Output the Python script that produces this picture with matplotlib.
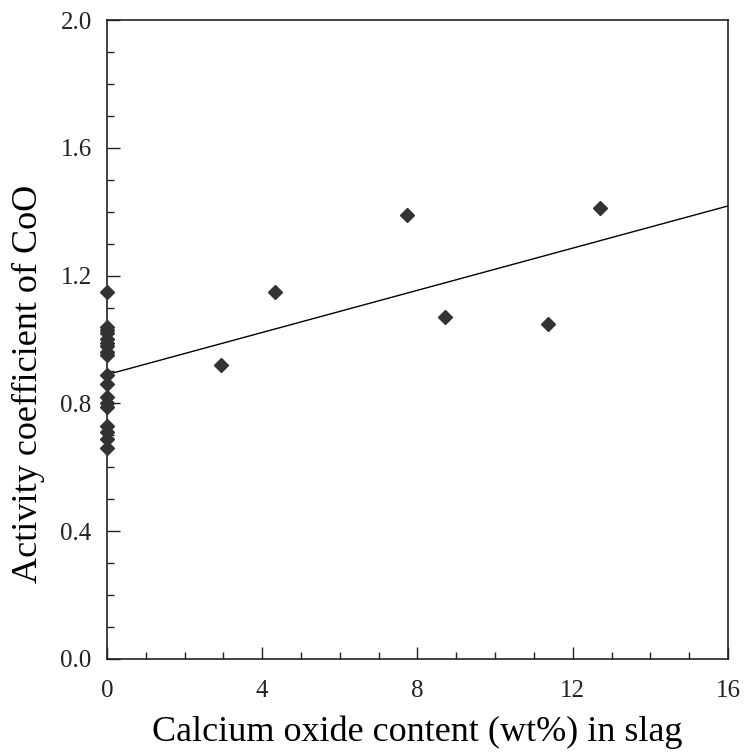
import numpy as np
import matplotlib
matplotlib.use('Agg')
import matplotlib.pyplot as plt
from matplotlib.ticker import MultipleLocator

plt.rcParams['font.family'] = ['Liberation Serif', 'DejaVu Serif']

# CaO content (wt%) and activity coefficient of CoO
cao_zero = [0, 0, 0, 0, 0, 0, 0, 0, 0, 0, 0, 0, 0, 0, 0, 0, 0, 0]
gamma_zero = [1.15, 1.04, 1.03, 1.02, 1.00, 0.99, 0.98, 0.96, 0.95,
              0.89, 0.86, 0.82, 0.80, 0.79, 0.73, 0.71, 0.69, 0.66]
cao = [2.95, 4.33, 7.73, 8.71, 11.37, 12.7]
gamma = [0.92, 1.15, 1.39, 1.07, 1.05, 1.41]

# regression line
fit_intercept = 0.89
fit_slope = 0.033
fit_x = [0, 16]

fig = plt.figure(figsize=(7.44, 7.55), dpi=100)
ax = fig.add_axes([0.1438, 0.1272, 0.8347, 0.8463])

ax.plot(cao_zero + cao, gamma_zero + gamma, linestyle='none', marker='D',
        markersize=7, color='#333333', clip_on=False, zorder=3)
fit_y = [fit_intercept + fit_slope * v for v in fit_x]
ax.plot(fit_x, fit_y, color='black', linewidth=1.0)

ax.set_xlim(0, 16)
ax.set_ylim(0, 2.0)
ax.xaxis.set_major_locator(MultipleLocator(4))
ax.xaxis.set_minor_locator(MultipleLocator(1))
ax.yaxis.set_major_locator(MultipleLocator(0.4))
ax.yaxis.set_minor_locator(MultipleLocator(0.1))
ax.yaxis.set_major_formatter(plt.FormatStrFormatter('%.1f'))

ax.tick_params(which='both', direction='in', top=False, right=False,
               labelsize=18, colors='#222222')
ax.tick_params(which='major', length=9, width=1.0)
ax.tick_params(which='minor', length=5, width=1.0)
ax.tick_params(axis='x', which='major', pad=15)
ax.tick_params(axis='y', which='major', pad=11)
for s in ax.spines.values():
    s.set_linewidth(1.2)
    s.set_color('#222222')

ax.set_xlabel('Calcium oxide content (wt%) in slag', fontsize=26, labelpad=10)
ax.set_ylabel('Activity coefficient of CoO', fontsize=26)
ax.yaxis.set_label_coords(-0.1, 0.43)

fig.savefig('out.png', dpi=100)
